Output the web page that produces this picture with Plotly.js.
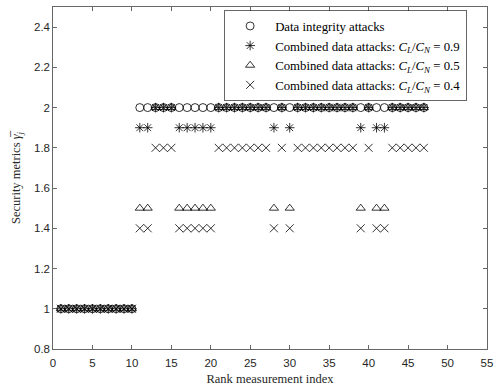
<!DOCTYPE html>
<html><head><meta charset="utf-8">
<script src="https://cdn.plot.ly/plotly-3.0.1.min.js"></script>
<style>body{margin:0;background:#fff}#c{width:494px;height:391px}</style>
</head><body><div id="c"></div>
<script>
const idx = [1,2,3,4,5,6,7,8,9,10,11,12,13,14,15,16,17,18,19,20,21,22,23,24,25,26,27,28,29,30,31,32,33,34,35,36,37,38,39,40,41,42,43,44,45,46,47];
const integrity = [1,1,1,1,1,1,1,1,1,1, 2,2,2,2,2,2,2,2,2,2,2,2,2,2,2,2,2,2,2,2,2,2,2,2,2,2,2,2,2,2,2,2,2,2,2,2,2];
const c09 = [1,1,1,1,1,1,1,1,1,1, 1.9,1.9, 2,2,2, 1.9,1.9,1.9,1.9,1.9, 2,2,2,2,2,2,2, 1.9, 2, 1.9, 2,2,2,2,2,2,2,2, 1.9, 2, 1.9,1.9, 2,2,2,2,2];
const c05 = [1,1,1,1,1,1,1,1,1,1, 1.5,1.5, 2,2,2, 1.5,1.5,1.5,1.5,1.5, 2,2,2,2,2,2,2, 1.5, 2, 1.5, 2,2,2,2,2,2,2,2, 1.5, 2, 1.5,1.5, 2,2,2,2,2];
const c04 = [1,1,1,1,1,1,1,1,1,1, 1.4,1.4, 1.8,1.8,1.8, 1.4,1.4,1.4,1.4,1.4, 1.8,1.8,1.8,1.8,1.8,1.8,1.8, 1.4, 1.8, 1.4, 1.8,1.8,1.8,1.8,1.8,1.8,1.8,1.8, 1.4, 1.8, 1.4,1.4, 1.8,1.8,1.8,1.8,1.8];
const names = ["Data integrity attacks",
  "Combined data attacks: <i>C</i><sub><i>L</i></sub>/<i>C</i><sub><i>N</i></sub> = 0.9",
  "Combined data attacks: <i>C</i><sub><i>L</i></sub>/<i>C</i><sub><i>N</i></sub> = 0.5",
  "Combined data attacks: <i>C</i><sub><i>L</i></sub>/<i>C</i><sub><i>N</i></sub> = 0.4"];
const series = [integrity, c09, c05, c04];
const symbols = ["circle-open", "asterisk-open", "triangle-up-open", "x-thin-open"];
const traces = series.map((s, i) => ({
  x: idx, y: s, type: "scatter", mode: "markers", name: names[i],
  marker: {symbol: symbols[i], size: 8, color: "#000", line: {color: "#000", width: 0.8}}
}));
const axisCommon = {
  showgrid: false, zeroline: false, showline: true, mirror: "ticks",
  linecolor: "#262626", linewidth: 0.7, ticks: "inside", ticklen: 4, tickwidth: 0.7,
  tickcolor: "#262626", tickfont: {family: "Liberation Sans, Arial", size: 11.5, color: "#262626"}
};
const layout = {
  width: 494, height: 391,
  margin: {l: 53, r: 7, t: 7, b: 42},
  paper_bgcolor: "#fff", plot_bgcolor: "#fff",
  showlegend: true,
  xaxis: Object.assign({}, axisCommon, {
    range: [0, 55], tick0: 0, dtick: 5, ticklabelstandoff: 3,
    title: {text: "Rank measurement index", standoff: 6, font: {family: "Liberation Serif, Times New Roman", size: 12.5, color: "#262626"}}
  }),
  yaxis: Object.assign({}, axisCommon, {
    range: [0.8, 2.5], tick0: 0.8, dtick: 0.2, tickformat: "~g",
    title: {text: "Security metrics <i>γ̅</i><sub><i>j</i></sub>", standoff: 10, font: {family: "Liberation Serif, Times New Roman", size: 12.5, color: "#262626"}}
  }),
  legend: {
    x: 0.395, y: 0.99, xanchor: "left", yanchor: "top",
    bgcolor: "#fff", bordercolor: "#262626", borderwidth: 0.7,
    font: {family: "Liberation Serif, Times New Roman", size: 12.8, color: "#000"},
    itemwidth: 40, tracegroupgap: 0
  }
};
Plotly.newPlot("c", traces, layout, {displayModeBar: false, staticPlot: true});
</script>
</body></html>
